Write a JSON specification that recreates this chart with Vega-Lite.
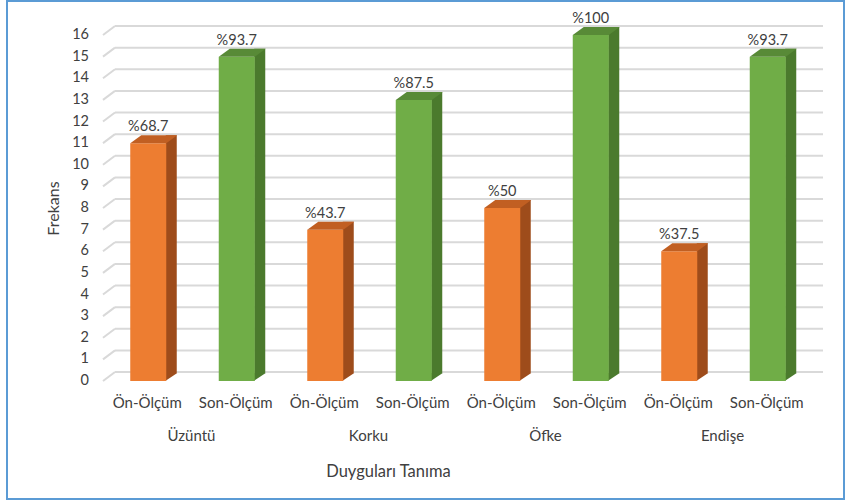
{
  "$schema": "https://vega.github.io/schema/vega-lite/v6.json",
  "width": 708,
  "height": 346,
  "autosize": "none",
  "padding": {"left": 103, "top": 35, "right": 35, "bottom": 120},
  "background": "white",
  "config": {
    "view": {"stroke": null},
    "font": "Lato",
    "axis": {"labelColor": "#404040", "titleColor": "#404040", "labelFont": "Lato", "titleFont": "Lato", "titleFontWeight": "normal"}
  },
  "datasets": {
    "bars": [
      {"duygu": "Üzüntü", "olcum": "Ön-Ölçüm", "key": "Üzüntü|Ön-Ölçüm", "frekans": 11, "yuzde": "%68.7"},
      {"duygu": "Üzüntü", "olcum": "Son-Ölçüm", "key": "Üzüntü|Son-Ölçüm", "frekans": 15, "yuzde": "%93.7"},
      {"duygu": "Korku", "olcum": "Ön-Ölçüm", "key": "Korku|Ön-Ölçüm", "frekans": 7, "yuzde": "%43.7"},
      {"duygu": "Korku", "olcum": "Son-Ölçüm", "key": "Korku|Son-Ölçüm", "frekans": 13, "yuzde": "%87.5"},
      {"duygu": "Öfke", "olcum": "Ön-Ölçüm", "key": "Öfke|Ön-Ölçüm", "frekans": 8, "yuzde": "%50"},
      {"duygu": "Öfke", "olcum": "Son-Ölçüm", "key": "Öfke|Son-Ölçüm", "frekans": 16, "yuzde": "%100"},
      {"duygu": "Endişe", "olcum": "Ön-Ölçüm", "key": "Endişe|Ön-Ölçüm", "frekans": 6, "yuzde": "%37.5"},
      {"duygu": "Endişe", "olcum": "Son-Ölçüm", "key": "Endişe|Son-Ölçüm", "frekans": 15, "yuzde": "%93.7"}
    ],
    "levels": [
      {"level": 0}, {"level": 1}, {"level": 2}, {"level": 3}, {"level": 4}, {"level": 5},
      {"level": 6}, {"level": 7}, {"level": 8}, {"level": 9}, {"level": 10}, {"level": 11},
      {"level": 12}, {"level": 13}, {"level": 14}, {"level": 15}, {"level": 16}
    ]
  },
  "resolve": {"scale": {"x": "independent"}, "axis": {"x": "independent"}},
  "layer": [
    {
      "layer": [
        {
          "description": "outer frame",
          "data": {"values": [{}]},
          "mark": {"type": "rect", "fill": "transparent", "stroke": "#5B9BD5", "strokeWidth": 2},
          "encoding": {
            "x": {"value": -96},
            "x2": {"value": 741},
            "y": {"value": -34},
            "y2": {"value": 464}
          }
        },
        {
          "description": "back wall gridlines",
          "data": {"name": "levels"},
          "mark": {"type": "rule", "color": "#D9D9D9", "strokeWidth": 2, "yOffset": -9},
          "encoding": {
            "y": {"field": "level", "type": "quantitative", "title": "Frekans"},
            "x": {"value": 12},
            "x2": {"value": 720}
          }
        },
        {
          "description": "side wall diagonals",
          "data": {"name": "levels"},
          "mark": {"type": "rule", "color": "#D9D9D9", "strokeWidth": 2, "y2Offset": -9},
          "encoding": {
            "y": {"field": "level", "type": "quantitative", "title": "Frekans"},
            "y2": {"field": "level"},
            "x": {"value": 0},
            "x2": {"value": 12}
          }
        },
        {
          "description": "tick labels of the value axis",
          "data": {"name": "levels"},
          "mark": {"type": "text", "fontSize": 14.5, "color": "#404040", "align": "right", "baseline": "middle", "dx": -14},
          "encoding": {
            "y": {"field": "level", "type": "quantitative", "title": "Frekans"},
            "x": {"value": 0},
            "text": {"field": "level", "type": "quantitative"}
          }
        },
        {
          "description": "bar side faces",
          "data": {"name": "bars"},
          "mark": {"type": "bar", "width": 11, "xOffset": 24, "yOffset": -8, "y2Offset": -8},
          "encoding": {
            "x": {
              "field": "key", "type": "nominal", "sort": null, "title": null,
              "scale": {"paddingInner": 0, "paddingOuter": 0},
              "axis": {
                "labelExpr": "split(datum.label, '|')[1]",
                "labelAngle": 0, "domain": false, "ticks": false,
                "labelFontSize": 15, "labelPadding": 14
              }
            },
            "y": {
              "field": "frekans", "type": "quantitative", "title": "Frekans",
              "scale": {"domain": [0, 16], "nice": false, "zero": true},
              "axis": {
                "labels": false,
                "domain": false, "ticks": false, "grid": false,
                "titleFontSize": 16, "titlePadding": 42
              }
            },
            "y2": {"datum": 0},
            "color": {"condition": {"test": "datum.olcum === 'Ön-Ölçüm'", "value": "#9E4C1B"}, "value": "#4B7A2D"}
          }
        },
        {
          "description": "lower corner of side faces",
          "data": {"name": "bars"},
          "mark": {"type": "point", "filled": true, "opacity": 1, "size": 4, "strokeWidth": 0, "xOffset": 1, "shape": "M17,0L17,-8L29,-8Z"},
          "encoding": {
            "x": {"field": "key", "type": "nominal", "sort": null},
            "y": {"datum": 0, "type": "quantitative", "title": "Frekans"},
            "color": {"condition": {"test": "datum.olcum === 'Ön-Ölçüm'", "value": "#9E4C1B"}, "value": "#4B7A2D"}
          }
        },
        {
          "description": "bar front faces",
          "data": {"name": "bars"},
          "mark": {"type": "bar", "width": 36, "xOffset": 1},
          "encoding": {
            "x": {"field": "key", "type": "nominal", "sort": null},
            "y": {"field": "frekans", "type": "quantitative", "title": "Frekans"},
            "y2": {"datum": 0},
            "color": {"condition": {"test": "datum.olcum === 'Ön-Ölçüm'", "value": "#ED7D31"}, "value": "#70AD47"}
          }
        },
        {
          "description": "bar top faces",
          "data": {"name": "bars"},
          "mark": {"type": "point", "filled": true, "opacity": 1, "size": 4, "strokeWidth": 0, "xOffset": 1, "shape": "M-18,0L18,0L29,-8L-7,-8Z"},
          "encoding": {
            "x": {"field": "key", "type": "nominal", "sort": null},
            "y": {"field": "frekans", "type": "quantitative", "title": "Frekans"},
            "color": {"condition": {"test": "datum.olcum === 'Ön-Ölçüm'", "value": "#C15F22"}, "value": "#588A37"}
          }
        },
        {
          "description": "percentage labels",
          "data": {"name": "bars"},
          "mark": {"type": "text", "fontSize": 14.5, "color": "#404040", "baseline": "bottom", "dy": -9, "xOffset": 1},
          "encoding": {
            "x": {"field": "key", "type": "nominal", "sort": null},
            "y": {"field": "frekans", "type": "quantitative", "title": "Frekans"},
            "text": {"field": "yuzde"}
          }
        }
      ]
    },
    {
      "description": "emotion group axis",
      "data": {"name": "bars"},
      "mark": {"type": "rule", "opacity": 0},
      "encoding": {
        "x": {
          "field": "duygu", "type": "nominal", "sort": null,
          "title": "Duyguları Tanıma",
          "scale": {"paddingInner": 0, "paddingOuter": 0},
          "axis": {
            "orient": "bottom", "labelAngle": 0, "domain": false, "ticks": false,
            "labelFontSize": 15, "labelPadding": 47,
            "titleFontSize": 16.5, "titlePadding": 20, "titleX": 285, "titleAnchor": "middle", "titleAlign": "center"
          }
        }
      }
    }
  ]
}
